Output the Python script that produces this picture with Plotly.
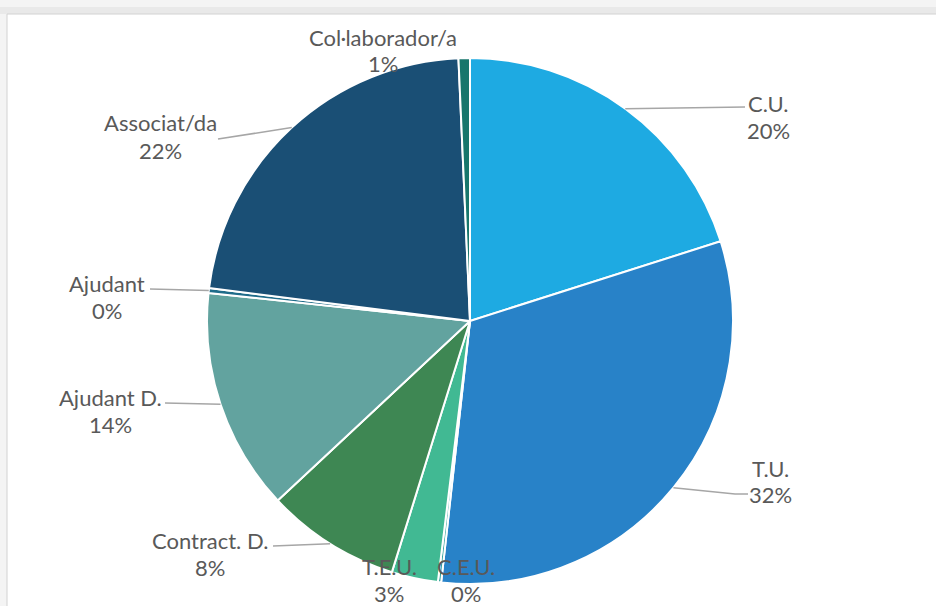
import math
import plotly.graph_objects as go

# ---- data ----
categories = ["C.U.", "T.U.", "C.E.U.", "T.E.U.", "Contract. D.", "Ajudant D.",
              "Ajudant", "Associat/da", "Col·laborador/a"]
values = [20.1, 31.65, 0.2, 2.85, 8.25, 13.65, 0.3, 22.3, 0.7]
colors = ["#1EAAE2", "#2882C8", "#2F9E9A", "#41B993", "#3E8753", "#62A39F",
          "#1F6C8A", "#1A4F75", "#17766C"]

# ---- layout constants (pixels) ----
W, H = 936, 606
CX, CY, R = 470, 321, 263
# label centre (x, y of first line) and leader-line end points
label_pos = {
    "C.U.": (768, 103), "T.U.": (770, 468), "C.E.U.": (466, 566),
    "T.E.U.": (389, 566), "Contract. D.": (210, 540), "Ajudant D.": (110, 397),
    "Ajudant": (107, 283), "Associat/da": (160, 123), "Col·laborador/a": (383, 37),
}
leader_path = {
    "C.U.": [(745, 107)],
    "T.U.": [(735, 494), (748, 494)],
    "Contract. D.": [(273, 546)],
    "Ajudant D.": [(165, 403)],
    "Ajudant": [(150, 289)],
    "Associat/da": [(218, 139)],
}
LINE_GAP = 27
FONT = "Lato"
FONT_SIZE = 22
TXT = "#595959"


def px(x):
    return x / W


def py(y):
    return 1 - y / H


fig = go.Figure()
fig.add_trace(go.Pie(
    labels=categories, values=values, sort=False, direction="clockwise",
    rotation=0, textinfo="none", hoverinfo="label+percent",
    marker=dict(colors=colors, line=dict(color="white", width=2)),
    domain=dict(x=[px(CX - R), px(CX + R)], y=[py(CY + R), py(CY - R)]),
    showlegend=False,
))

shapes = [
    dict(type="rect", xref="paper", yref="paper", x0=px(0), x1=px(W),
         y0=py(14), y1=py(7), fillcolor="#e9e9e9", line=dict(width=0),
         layer="below"),
    dict(type="rect", xref="paper", yref="paper", x0=px(7), x1=px(W + 5),
         y0=py(H + 5), y1=py(14), fillcolor="white",
         line=dict(color="#d2d2d2", width=1), layer="below"),
]
annotations = []
total = sum(values)
cum = 0.0
for cat, v in zip(categories, values):
    mid = (cum + v / 2) / total * 2 * math.pi
    cum += v
    tipx = CX + R * math.sin(mid)
    tipy = CY - R * math.cos(mid)
    if cat in leader_path:
        pts = [(tipx, tipy)] + leader_path[cat]
        path = "M " + " L ".join(f"{px(x)},{py(y)}" for x, y in pts)
        shapes.append(dict(type="path", xref="paper", yref="paper", path=path,
                           line=dict(color="#a6a6a6", width=1.5)))
    lx, ly = label_pos[cat]
    pct = f"{round(v / total * 100)}%"
    for i, t in enumerate([cat, pct]):
        annotations.append(dict(
            x=px(lx), y=py(ly + i * LINE_GAP), xref="paper", yref="paper",
            text=t, showarrow=False, xanchor="center", yanchor="middle",
            font=dict(family=FONT, size=FONT_SIZE, color=TXT)))

fig.update_layout(
    width=W, height=H, margin=dict(l=0, r=0, t=0, b=0),
    paper_bgcolor="#f4f4f4", plot_bgcolor="white",
    shapes=shapes, annotations=annotations,
)
fig.write_html("out.html", config={"displayModeBar": False},
               post_script="document.body.style.margin='0';"
                           "document.body.style.overflow='hidden';")
